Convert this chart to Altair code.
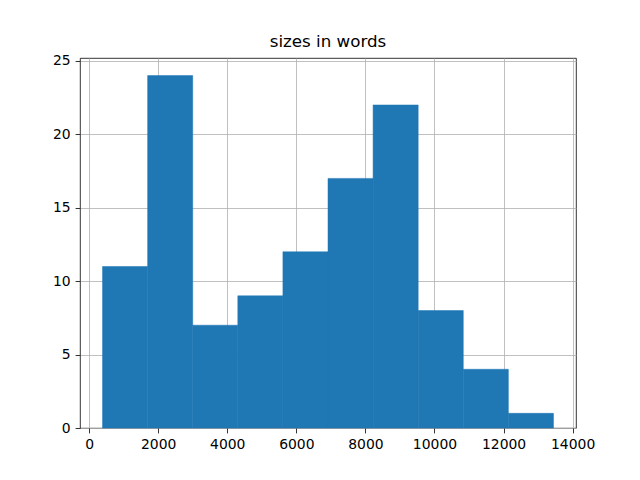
import altair as alt
import pandas as pd

bin_start = [390, 1695.5, 3001, 4306.5, 5612, 6917.5, 8223, 9528.5, 10834, 12139.5]
bin_end = [1695.5, 3001, 4306.5, 5612, 6917.5, 8223, 9528.5, 10834, 12139.5, 13445]
counts = [11, 24, 7, 9, 12, 17, 22, 8, 4, 1]

x_ticks = [0, 2000, 4000, 6000, 8000, 10000, 12000, 14000]
y_ticks = [0, 5, 10, 15, 20, 25]

df = pd.DataFrame({"start": bin_start, "end": bin_end, "count": counts,
                   "base": [0] * len(counts)})

chart = alt.Chart(df).mark_bar(color="#1f77b4", stroke="#1f77b4", strokeWidth=0.5).encode(
    x=alt.X("start:Q",
            scale=alt.Scale(domain=[-262.75, 14097.75], nice=False, zero=False),
            axis=alt.Axis(values=x_ticks, format="d", title=None)),
    x2="end:Q",
    y=alt.Y("count:Q",
            scale=alt.Scale(domain=[0, 25.2], nice=False),
            axis=alt.Axis(values=y_ticks, format="d", title=None)),
    y2="base:Q",
).properties(
    width=496,
    height=370,
    background="white",
    title=alt.TitleParams("sizes in words", font="DejaVu Sans", fontSize=16.7,
                          fontWeight="normal", color="black", offset=3),
    autosize=alt.AutoSizeParams(type="none"),
    padding={"left": 72, "top": 50, "right": 56, "bottom": 44},
).configure_view(
    stroke="black", strokeWidth=0.8
).configure_axis(
    grid=True, gridColor="#b0b0b0", gridWidth=0.8, gridOpacity=1,
    domain=False, ticks=True, tickColor="black", tickSize=4.9, tickWidth=0.8,
    labelFont="DejaVu Sans", labelFontSize=13.9, labelColor="black",
    labelPadding=4.9, zindex=1,
)

chart.save("out.html", embed_options={"renderer": "svg", "actions": False})
